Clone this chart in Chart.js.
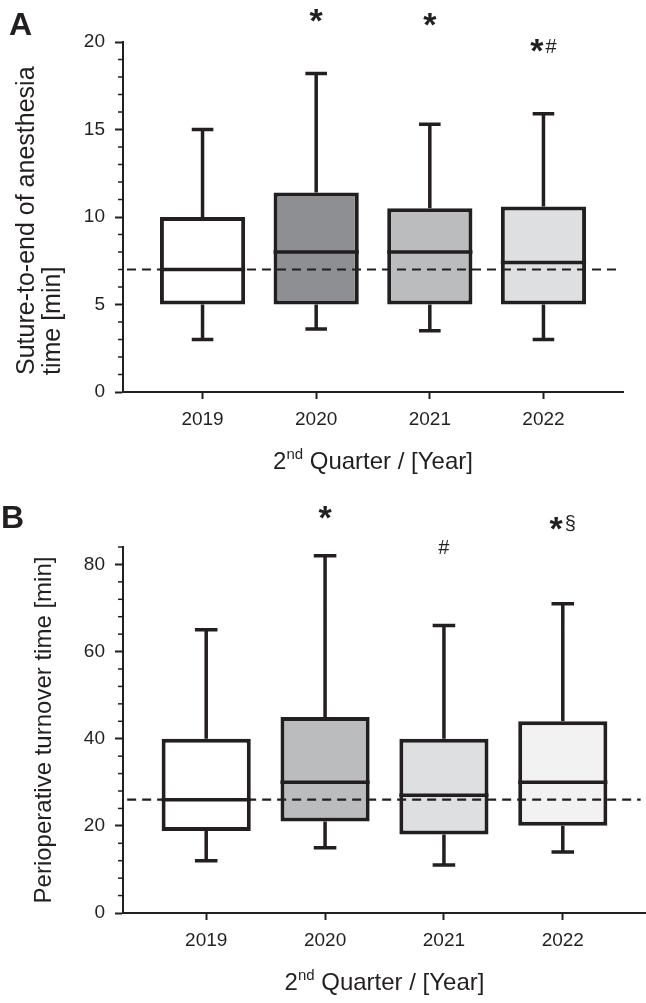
<!DOCTYPE html>
<html>
<head>
<meta charset="utf-8">
<script src="https://cdn.jsdelivr.net/npm/chart.js@4.4.1/dist/chart.umd.min.js"></script>
<style>
  html, body { margin: 0; padding: 0; background: #fff; }
  canvas { display: block; }
</style>
</head>
<body>
<canvas id="chartA" width="646" height="500"></canvas>
<canvas id="chartB" width="646" height="503"></canvas>
<script>
const years = ["2019", "2020", "2021", "2022"];

// A: suture-to-end of anesthesia time [min]
const sutureMin = [3, 3.6, 3.5, 3];
const sutureQ1 = [5, 5, 5, 5];
const sutureMedian = [7, 8, 8, 7.4];
const sutureQ3 = [10, 11.4, 10.5, 10.6];
const sutureMax = [15, 18.2, 15.3, 15.9];
const sutureRef = 7;
const sutureTicks = [0, 5, 10, 15, 20];
const sutureMarks = [[], ["*"], ["*"], ["*", "#"]];
const sutureMarkY = [null, 21.5, 21.3, 19.8];

// B: perioperative turnover time [min]
const turnoverMin = [12, 15, 11, 14];
const turnoverQ1 = [18.8, 21, 18, 20];
const turnoverMedian = [26, 30, 27, 30];
const turnoverQ3 = [40, 45, 40, 44];
const turnoverMax = [65, 82, 66, 71];
const turnoverRef = 26;
const turnoverTicks = [0, 20, 40, 60, 80];
const turnoverMarks = [[], ["*"], ["#"], ["*", "\u00a7"]];
const turnoverMarkY = [null, 92.0, 84.0, 89.5];

const STROKE = "#231f20";
const FONT = "'Liberation Sans', Arial, sans-serif";
const BOX_HALF = 0.375;
const CAP_HALF = 0.095;
const X_MIN = -0.7;
const X_MAX = 3.7;

Chart.defaults.font.family = FONT;
Chart.defaults.color = STROKE;

function buildDatasets(p) {
    const boxes = years.map((_, i) => ({ x: i, y: [p.q1[i], p.q3[i]] }));
    const whiskers = [];
    const medians = [];
    years.forEach((_, i) => {
        whiskers.push(
            { x: i, y: p.q3[i] }, { x: i, y: p.max[i] }, { x: i, y: null },
            { x: i - CAP_HALF, y: p.max[i] }, { x: i + CAP_HALF, y: p.max[i] }, { x: i, y: null },
            { x: i, y: p.q1[i] }, { x: i, y: p.min[i] }, { x: i, y: null },
            { x: i - CAP_HALF, y: p.min[i] }, { x: i + CAP_HALF, y: p.min[i] }, { x: i, y: null }
        );
        medians.push({ x: i - BOX_HALF, y: p.median[i] }, { x: i + BOX_HALF, y: p.median[i] }, { x: i, y: null });
    });

    return [
        {
            type: "line",
            data: [{ x: X_MIN + 0.035, y: p.ref }, { x: X_MAX - 0.045, y: p.ref }],
            borderColor: STROKE,
            borderWidth: 2.2,
            borderDash: [9, 6],
            pointRadius: 0,
            order: 1
        },
        {
            type: "line",
            data: medians,
            borderColor: STROKE,
            borderWidth: 3.5,
            pointRadius: 0,
            spanGaps: false,
            order: 2
        },
        {
            type: "bar",
            data: boxes,
            backgroundColor: p.colors,
            borderColor: STROKE,
            borderWidth: 4,
            borderSkipped: false,
            categoryPercentage: 1,
            barPercentage: 0.75,
            order: 3
        },
        {
            type: "line",
            data: whiskers,
            borderColor: STROKE,
            borderWidth: 3.5,
            pointRadius: 0,
            spanGaps: false,
            order: 4
        }
    ];
}

// minor ticks, axis titles, significance marks, panel letter
const decor = {
    id: "decor",
    afterDraw(chart, args, o) {
        const { ctx, chartArea } = chart;
        const x = chart.scales.x;
        const y = chart.scales.y;
        ctx.save();

        ctx.strokeStyle = STROKE;
        ctx.lineWidth = 1.5;
        for (let v = y.min; v <= y.max + 1e-9; v += o.minorStep) {
            if (o.majors.includes(v)) continue;
            const py = y.getPixelForValue(v);
            ctx.beginPath();
            ctx.moveTo(chartArea.left - 5, py);
            ctx.lineTo(chartArea.left, py);
            ctx.stroke();
        }

        // y axis title, lines start at the same height
        ctx.fillStyle = STROKE;
        ctx.save();
        ctx.translate(0, chartArea.bottom - o.yTitleInset);
        ctx.rotate(-Math.PI / 2);
        ctx.font = o.yTitleSize + "px " + FONT;
        ctx.textAlign = o.yTitleAlign;
        ctx.textBaseline = "middle";
        const along = o.yTitleAlign === "center" ? (chartArea.bottom - chartArea.top) / 2 - o.yTitleInset : 0;
        o.yTitle.forEach((line, k) => ctx.fillText(line, along, o.yTitleX[k]));
        ctx.restore();

        // x axis title: 2nd Quarter / [Year]
        ctx.textBaseline = "alphabetic";
        ctx.textAlign = "left";
        const big = "24px " + FONT;
        const small = "15px " + FONT;
        ctx.font = big;
        const w1 = ctx.measureText("2").width;
        const w3 = ctx.measureText(" Quarter / [Year]").width;
        ctx.font = small;
        const w2 = ctx.measureText("nd").width;
        const baseY = chartArea.bottom + 77;
        const sx = (chartArea.left + chartArea.right) / 2 - (w1 + w2 + w3) / 2;
        ctx.font = big;
        ctx.fillText("2", sx, baseY);
        ctx.font = small;
        ctx.fillText("nd", sx + w1, baseY - 10);
        ctx.font = big;
        ctx.fillText(" Quarter / [Year]", sx + w1 + w2, baseY);

        // significance marks
        o.marks.forEach((list, i) => {
            if (!list.length) return;
            const fonts = list.map(m => m === "*" ? "bold 34px " + FONT : "20px " + FONT);
            const widths = list.map((m, k) => { ctx.font = fonts[k]; return ctx.measureText(m).width; });
            const gap = 2;
            const total = widths.reduce((a, b) => a + b, 0) + gap * (list.length - 1);
            let px = x.getPixelForValue(i) - total / 2;
            const cy = y.getPixelForValue(o.markY[i]);
            list.forEach((m, k) => {
                ctx.font = fonts[k];
                const mt = ctx.measureText(m);
                const by = cy + (mt.actualBoundingBoxAscent - mt.actualBoundingBoxDescent) / 2;
                ctx.fillText(m, px, by);
                px += widths[k] + gap;
            });
        });

        // panel letter
        ctx.font = "bold 32px " + FONT;
        ctx.fillText(o.letter, o.letterX, o.letterY);
        ctx.restore();
    }
};

function makeChart(id, p) {
    return new Chart(document.getElementById(id), {
        type: "bar",
        data: { datasets: buildDatasets(p) },
        plugins: [decor],
        options: {
            responsive: false,
            animation: false,
            layout: { padding: { left: 0, right: p.padRight, top: p.padTop, bottom: 0 } },
            scales: {
                x: {
                    type: "linear",
                    min: X_MIN,
                    max: X_MAX,
                    offset: false,
                    afterBuildTicks: s => { s.ticks = years.map((_, i) => ({ value: i })); },
                    afterFit: s => { s.height = p.xHeight; },
                    grid: { drawOnChartArea: false, offset: false, tickLength: 7, tickWidth: 2, tickColor: STROKE },
                    border: { color: STROKE, width: 2 },
                    ticks: {
                        font: { size: 19 },
                        color: STROKE,
                        padding: 9,
                        maxRotation: 0,
                        autoSkip: false,
                        callback: v => years[v]
                    }
                },
                y: {
                    type: "linear",
                    min: 0,
                    max: p.yMax,
                    afterBuildTicks: s => { s.ticks = p.majors.map(v => ({ value: v })); },
                    afterFit: s => { s.width = 123; },
                    grid: { drawOnChartArea: false, tickLength: 8, tickWidth: 2, tickColor: STROKE },
                    border: { color: STROKE, width: 2 },
                    ticks: { font: { size: 19 }, color: STROKE, padding: 10 }
                }
            },
            plugins: {
                legend: { display: false },
                tooltip: { enabled: false },
                decor: {
                    minorStep: p.minorStep,
                    majors: p.majors,
                    marks: p.marks,
                    markY: p.markY,
                    yTitle: p.yTitle,
                    yTitleSize: p.yTitleSize,
                    yTitleX: p.yTitleX,
                    yTitleAlign: p.yTitleAlign,
                    yTitleInset: p.yTitleInset,
                    letter: p.letter,
                    letterX: p.letterX,
                    letterY: p.letterY
                }
            }
        }
    });
}

makeChart("chartA", {
    min: sutureMin, q1: sutureQ1, median: sutureMedian, q3: sutureQ3, max: sutureMax,
    ref: sutureRef, majors: sutureTicks, marks: sutureMarks, markY: sutureMarkY,
    colors: ["#ffffff", "#8e8f92", "#bbbcbe", "#dedfe1"],
    yMax: 20, minorStep: 1,
    yTitle: ["Suture-to-end of anesthesia", "time [min]"],
    yTitleSize: 25, yTitleX: [27, 53], yTitleAlign: "left", yTitleInset: 17,
    padTop: 42, padRight: 23, xHeight: 108,
    letter: "A", letterX: 9, letterY: 35
});

makeChart("chartB", {
    min: turnoverMin, q1: turnoverQ1, median: turnoverMedian, q3: turnoverQ3, max: turnoverMax,
    ref: turnoverRef, majors: turnoverTicks, marks: turnoverMarks, markY: turnoverMarkY,
    colors: ["#ffffff", "#bbbcbe", "#dedfe1", "#f2f2f2"],
    yMax: 84, minorStep: 4,
    yTitle: ["Perioperative turnover time [min]"],
    yTitleSize: 24, yTitleX: [44], yTitleAlign: "center", yTitleInset: 0,
    padTop: 47, padRight: 0, xHeight: 90,
    letter: "B", letterX: 1, letterY: 28
});
</script>
</body>
</html>
